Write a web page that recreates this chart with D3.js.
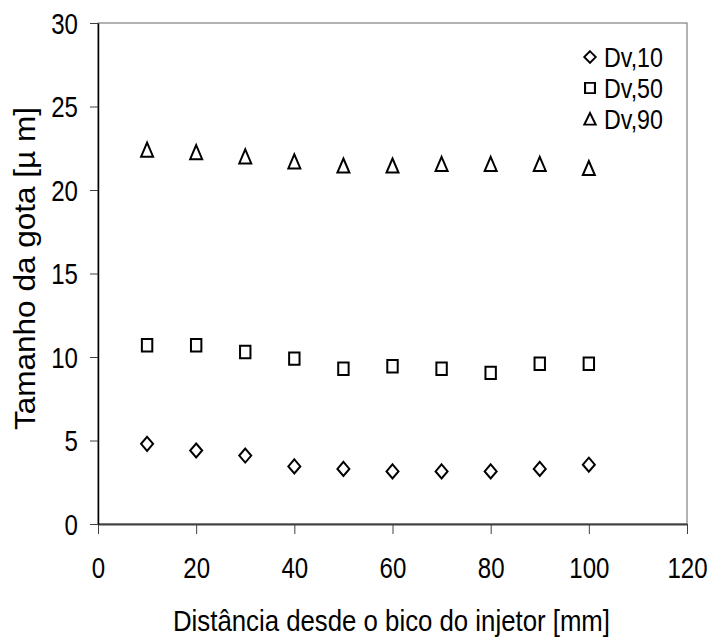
<!DOCTYPE html>
<html>
<head>
<meta charset="utf-8">
<script src="https://cdn.jsdelivr.net/npm/d3@7"></script>
<style>
  html, body { margin: 0; padding: 0; background: #fff; }
  svg { display: block; font-family: "Liberation Sans", Arial, sans-serif; }
</style>
</head>
<body>
<svg id="chart" width="712" height="637"></svg>
<script>
const distances = [10, 20, 30, 40, 50, 60, 70, 80, 90, 100];
const dv10 = [4.8, 4.4, 4.1, 3.45, 3.3, 3.15, 3.15, 3.15, 3.3, 3.55];
const dv50 = [10.7, 10.7, 10.3, 9.9, 9.3, 9.45, 9.3, 9.05, 9.6, 9.6];
const dv90 = [22.4, 22.25, 22.0, 21.7, 21.45, 21.45, 21.55, 21.55, 21.55, 21.3];
const seriesNames = ["Dv,10", "Dv,50", "Dv,90"];
const xTicks = [0, 20, 40, 60, 80, 100, 120];
const yTicks = [0, 5, 10, 15, 20, 25, 30];

(function () {
const svg = d3.select("#chart");
const pLeft = 98, pRight = 687, pTop = 23, pBottom = 524;
const SX = 0.83;      // horizontal compression of the text glyphs
const FS = 29;        // font size

const x = d3.scaleLinear().domain([0, 120]).range([pLeft, pRight]);
const y = d3.scaleLinear().domain([0, 30]).range([pBottom, pTop]);

// Plot area border
svg.append("rect")
  .attr("x", pLeft).attr("y", pTop)
  .attr("width", pRight - pLeft).attr("height", pBottom - pTop)
  .attr("fill", "none").attr("stroke", "#666").attr("stroke-width", 1);

// Axes
const xAxis = svg.append("g").attr("transform", `translate(0,${pBottom})`)
  .call(d3.axisBottom(x).tickValues(xTicks).tickSize(10).tickSizeOuter(0));
const yAxis = svg.append("g").attr("transform", `translate(${pLeft},0)`)
  .call(d3.axisLeft(y).tickValues(yTicks).tickSize(8).tickSizeOuter(0));

xAxis.select(".domain").attr("stroke", "#404040").attr("stroke-width", 2);
yAxis.select(".domain").attr("stroke", "#000").attr("stroke-width", 1.5);
xAxis.selectAll(".tick line").attr("stroke", "#404040").attr("stroke-width", 1);
yAxis.selectAll(".tick line").attr("stroke", "#404040").attr("stroke-width", 1);

svg.selectAll(".tick text").attr("font-size", FS).attr("fill", "#000")
  .attr("font-family", "Liberation Sans, Arial, sans-serif")
  .attr("transform", `scale(${SX},1)`);
xAxis.selectAll(".tick text").attr("y", 54).attr("dy", 0);
yAxis.selectAll(".tick text").attr("x", -20 / SX).attr("y", 10).attr("dy", 0);

// Axis titles
svg.append("text")
  .attr("x", 391.5).attr("y", 631)
  .attr("text-anchor", "middle").attr("font-size", 30).attr("fill", "#000")
  .attr("textLength", 437).attr("lengthAdjust", "spacingAndGlyphs")
  .text("Distância desde o bico do injetor [mm]");
svg.append("text")
  .attr("transform", `translate(35,268.5) rotate(-90)`)
  .attr("text-anchor", "middle").attr("font-size", 30).attr("fill", "#000")
  .attr("textLength", 323).attr("lengthAdjust", "spacingAndGlyphs")
  .text("Tamanho da gota [µ m]");

const allSeries = [dv10, dv50, dv90];

function marker(i) {
  if (i === 0) return "M0,-7L6,0L0,7L-6,0Z";
  if (i === 1) return "M-5.2,-6.2L5.2,-6.2L5.2,6.2L-5.2,6.2Z";
  return "M0,-7.3L6,6.8L-6,6.8Z";
}

allSeries.forEach((vals, i) => {
  svg.append("g").selectAll("path")
    .data(vals.map((v, j) => [distances[j], v]))
    .join("path")
    .attr("transform", d => `translate(${x(d[0])},${y(d[1])})`)
    .attr("d", marker(i))
    .attr("fill", "none").attr("stroke", "#000").attr("stroke-width", 2);
});

// Legend
const legend = svg.append("g");
const rowY = [57, 88, 119];
seriesNames.forEach((name, i) => {
  const ly = rowY[i];
  legend.append("path")
    .attr("transform", `translate(590,${ly}) scale(0.95,0.82)`)
    .attr("d", marker(i))
    .attr("fill", "none").attr("stroke", "#000").attr("stroke-width", 2.2);
  legend.append("text")
    .attr("transform", `translate(604,${ly + 10}) scale(${SX},1)`)
    .attr("font-size", 28).attr("fill", "#000")
    .text(name);
});
})();
</script>
</body>
</html>
